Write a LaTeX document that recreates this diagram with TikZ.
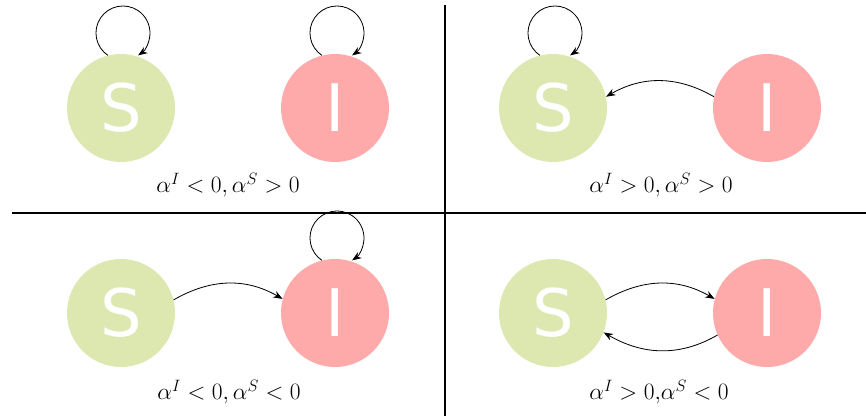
\documentclass[tikz,border=0pt]{standalone}
\usepackage{fix-cm}
\usepackage{fontspec}
\newfontfamily\statefont{DejaVu Sans}
\usetikzlibrary{arrows.meta}
\definecolor{susgreen}{RGB}{221,232,176}
\definecolor{infred}{RGB}{255,170,170}
\begin{document}
\begin{tikzpicture}[x=0.03cm,y=0.03cm,
  state/.style={circle,minimum size=3.24cm,inner sep=0pt,text=white,
    font=\statefont\fontsize{56}{60}\selectfont},
  sus/.style={state,fill=susgreen},
  inf/.style={state,fill=infred},
  flow/.style={-{Stealth[length=8pt,width=6pt]},line width=0.7pt},
  cond/.style={font=\fontsize{20}{24}\selectfont},
  divider/.style={line width=1.2pt}]
  \useasboundingbox (0,0) rectangle (866,416);
  % quadrant dividers
  \coordinate (hl) at (12,203);  \coordinate (hr) at (866,203);
  \coordinate (vt) at (445,411); \coordinate (vb) at (445,0);
  \draw[divider] (hl) -- (hr);
  \draw[divider] (vt) -- (vb);
  % one S/I pair per quadrant
  \foreach \p/\x/\y in {tl/121/308,tr/553/308,bl/121/103,br/553/103}{
    \node[sus] (\p S) at (\x,\y) {S};
    \node[inf] (\p I) at (\x+214,\y) {I};
  }
  \node[cond] (tlC) at (228,231) {$\alpha^I<0,\alpha^S>0$};
  \node[cond] (trC) at (661,231) {$\alpha^I>0,\alpha^S>0$};
  \node[cond] (blC) at (229,24) {$\alpha^I<0,\alpha^S<0$};
  \node[cond] (brC) at (659,24) {$\alpha^I>0{,}\alpha^S<0$};
  % self loops sit on top of the node
  \foreach \n in {tlS,tlI,trS,blI}
    \draw[flow] (\n.104) arc[start angle=236,end angle=-56,radius=0.81cm];
  % transitions between S and I
  \draw[flow] (trI.168) to[out=150,in=30] (trS.12);
  \draw[flow] (blS.14) to[out=30,in=150] (blI.165);
  \draw[flow] (brS.14) to[out=30,in=150] (brI.165);
  \draw[flow] (brI.204) to[out=210,in=330] (brS.339);
\end{tikzpicture}
\end{document}
